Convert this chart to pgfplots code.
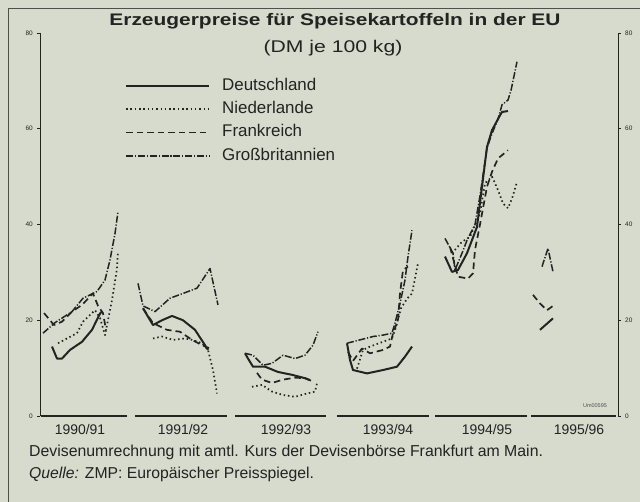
\documentclass[border=0pt]{standalone}
\usepackage{fontspec}
\setmainfont{Liberation Sans}
\newfontfamily\stretchfont[FakeStretch=1.25]{Liberation Sans}
\usepackage{pgfplots}
\pgfplotsset{compat=1.18}
\definecolor{paper}{RGB}{214,219,205}
\definecolor{ink}{RGB}{35,35,33}
\begin{document}
\begin{tikzpicture}
\useasboundingbox (-40bp,-86bp) rectangle (600bp,416bp);
\fill[paper] (-40bp,-86bp) rectangle (600bp,416bp);
\draw[ink!80,line width=0.8bp] (-32bp,-86bp) -- (-32bp,408bp) -- (600bp,408bp);
\node[anchor=base,text=ink,inner sep=0pt] at (295bp,390bp) {\fontsize{16.8}{19}\stretchfont\bfseries Erzeugerpreise für Speisekartoffeln in der EU};
\node[anchor=base,text=ink,inner sep=0pt] at (293bp,363bp) {\fontsize{17}{19}\stretchfont (DM je 100 kg)};
\begin{axis}[
  at={(0,0)}, anchor=south west,
  scale only axis, width=578bp, height=383bp,
  xmin=40, xmax=618, ymin=0, ymax=80,
  hide x axis, axis y line*=left,
  ytick={0,20,40,60,80},
  tick align=outside, major tick length=3bp,
  tick style={ink, line width=0.6bp},
  axis line style={ink, line width=1bp},
  yticklabel style={font=\fontsize{6.5}{7}\selectfont, text=ink, inner sep=1bp, xshift=-3bp},
  /pgf/number format/assume math mode=true,
  clip=false,
  unbounded coords=jump,
  every axis plot/.append style={ink, line join=round},
  legend image code/.code={\draw[#1] (0bp,0bp) -- (83bp,0bp);},
  legend cell align=left,
  legend style={at={(0.147,0.8825)}, anchor=north west, draw=none, fill=none,
    font=\fontsize{17}{19}\selectfont, text=ink, inner sep=0pt, row sep=7.8bp,
    nodes={inner sep=0pt, text height=12bp, text depth=3.5bp},
    /tikz/every odd column/.append style={column sep=12bp}},
]
% Deutschland
\addplot[line width=2bp] coordinates {
 (52,14.5) (57,12.0) (62,12.0) (70,13.8) (82,15.5) (92,18.0) (100,21.4) (102,21.8)
 (120,nan)
 (143,22.5) (153,19.0) (162,20.0) (172,20.9) (183,20.0) (195,18.0) (205,14.8) (208,13.8)
 (225,nan)
 (245,13.1) (248,12.0) (253,10.3) (265,10.3) (278,9.2) (292,8.6) (305,7.9) (310,7.5)
 (330,nan)
 (347,15.2) (350,11.7) (353,9.6) (367,8.9) (383,9.6) (397,10.3) (405,12.4) (412,14.5)
 (430,nan)
 (445,33.3) (452,30.1) (458,30.5) (467,34.0) (477,39.5) (482,47.9) (487,56.2) (492,59.7) (500,62.8) (502,63.5) (508,63.7)
 (525,nan)
 (540,18.0) (553,20.4)
};
\addlegendentry{Deutschland}
% Niederlande
\addplot[line width=1.7bp, dash pattern=on 1.5bp off 2.8bp] coordinates {
 (58,15.2) (67,16.2) (77,17.3) (83,19.7) (90,21.1) (95,22.1) (100,20.5) (105,16.9) (112,24.2) (117,30.8) (118,34.3)
 (125,nan)
 (153,16.2) (162,16.6) (173,15.9) (185,16.2) (192,15.9) (202,15.2) (208,13.8) (213,9.6) (217,4.7)
 (230,nan)
 (252,6.1) (262,6.5) (272,5.1) (283,4.4) (295,4.0) (307,4.7) (315,5.1) (317,6.8)
 (330,nan)
 (357,9.9) (363,13.8) (370,14.5) (383,15.5) (392,16.2) (396,18.6) (401,22.5) (407,24.5) (412,25.6) (416,29.8) (418,31.9)
 (430,nan)
 (452,34.0) (462,36.4) (470,37.4) (480,42.3) (485,48.6) (492,50.0) (498,47.2) (503,44.4) (508,43.4) (512,45.4) (517,48.9)
};
\addlegendentry{Niederlande}
% Frankreich
\addplot[line width=1.7bp, dash pattern=on 6.5bp off 4bp] coordinates {
 (44,21.5) (50,20.0) (54,19.0) (62,19.7) (72,21.8) (82,23.2) (93,25.6) (98,23.0) (103,21.5) (106,18.0)
 (125,nan)
 (143,22.5) (153,19.4) (167,18.0) (180,17.6) (192,15.9) (202,14.8) (210,14.1)
 (230,nan)
 (257,9.0) (262,7.6) (272,6.9) (283,7.6) (295,8.0) (305,7.9) (313,7.2)
 (330,nan)
 (348,13.4) (353,11.5) (362,14.1) (370,13.1) (383,13.8) (390,14.5) (393,17.3) (398,20.0) (400,25.6) (403,30.5) (408,31.2)
 (430,nan)
 (450,35.3) (458,29.1) (468,28.7) (473,29.8) (475,34.7) (480,40.0) (487,47.9) (492,51.0) (498,53.8) (508,55.5)
 (525,nan)
 (533,25.3) (540,23.5) (547,22.1) (553,23.0)
};
\addlegendentry{Frankreich}
% Grossbritannien
\addplot[line width=1.5bp, dash pattern=on 7bp off 1.8bp on 1.2bp off 1.8bp] coordinates {
 (43,17.3) (55,19.5) (72,21.8) (83,24.6) (97,26.0) (105,28.4) (110,32.6) (115,38.1) (118,42.7)
 (125,nan)
 (138,27.7) (143,23.0) (155,21.8) (170,24.6) (183,25.6) (197,26.7) (210,30.8) (218,23.2)
 (230,nan)
 (245,13.1) (253,12.7) (263,10.6) (272,11.0) (283,12.7) (295,12.0) (305,12.7) (313,14.8) (318,17.6)
 (330,nan)
 (347,15.2) (360,15.9) (373,16.6) (383,16.9) (392,17.3) (395,19.4) (400,23.5) (405,28.4) (408,33.3) (412,38.8)
 (430,nan)
 (445,37.1) (453,34.0) (455,30.5) (462,34.0) (467,36.7) (475,40.0) (480,46.0) (487,56.0) (492,59.0) (498,62.0) (502,65.0) (508,66.0) (511,68.0) (517,74.0)
 (525,nan)
 (542,31.2) (548,35.0) (553,30.1)
};
\addlegendentry{Großbritannien}
% season segments of the x axis
\foreach \a/\b in {41/127,135/227,235/326,337/429,435/527,531/616}{
  \edef\tmp{\noexpand\draw[ink,line width=1.4bp] (axis cs:\a,0) -- (axis cs:\b,0);}\tmp
}
\foreach \c/\l in {80/1990\slash 91,183/1991\slash 92,286/1992\slash 93,388/1993\slash 94,487/1994\slash 95,579/1995\slash 96}{
  \edef\tmp{\noexpand\node[anchor=base,text=ink,inner sep=0pt,font=\noexpand\fontsize{14}{16}\noexpand\selectfont] at (axis cs:\c,0) [yshift=-19bp] {\l};}\tmp
}
\node[anchor=center,text=ink!80,inner sep=0pt,font=\fontsize{5.5}{6}\selectfont] at (axis cs:595,2.1) {Um00595};
\node[anchor=base west,text=ink,inner sep=0pt,font=\fontsize{15.9}{18}\selectfont] at (axis cs:29,0) [yshift=-40bp] {Devisenumrechnung mit amtl. Kurs der Devisenbörse Frankfurt am Main.};
\node[anchor=base west,text=ink,inner sep=0pt,font=\fontsize{15.8}{18}\selectfont] at (axis cs:29,0) [yshift=-62bp] {\textit{Quelle:} ZMP: Europäischer Preisspiegel.};
\end{axis}
\begin{axis}[
  at={(0,0)}, anchor=south west,
  scale only axis, width=578bp, height=383bp,
  xmin=40, xmax=618, ymin=0, ymax=80,
  hide x axis, axis y line*=right,
  ytick={0,20,40,60,80},
  tick align=outside, major tick length=3bp,
  tick style={ink, line width=0.6bp},
  axis line style={ink, line width=1bp},
  yticklabel style={font=\fontsize{6.5}{7}\selectfont, text=ink, inner sep=1bp, xshift=3bp},
  /pgf/number format/assume math mode=true,
]
\addplot[draw=none] coordinates {(40,0)};
\end{axis}
\end{tikzpicture}
\end{document}
